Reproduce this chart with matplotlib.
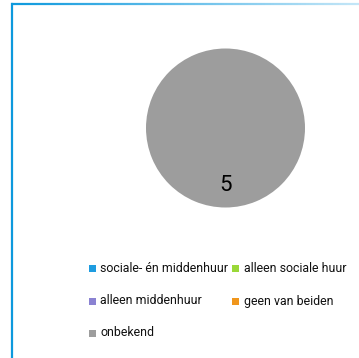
"""Pie chart of housing category counts (single category filled)."""

import matplotlib
matplotlib.use("Agg")
import matplotlib.pyplot as plt
import numpy as np
from matplotlib.collections import LineCollection
from matplotlib.colors import to_rgb
from matplotlib.patches import Rectangle

categories = [
    "sociale- én middenhuur",
    "alleen sociale huur",
    "alleen middenhuur",
    "geen van beiden",
    "onbekend",
]
values = [0, 0, 0, 0, 5]
colours = ["#1e9ce0", "#9ad838", "#8a82d2", "#f0961c", "#9d9d9d"]

W, H = 359, 358
plt.rcParams["font.family"] = ["Roboto", "DejaVu Sans"]

fig = plt.figure(figsize=(W / 100, H / 100), dpi=100)

# frame: blue line on left and top, top line fading to the right
fig.add_artist(plt.Line2D([12 / W, 12 / W], [0, 1 - 4 / H], color="#0d99dd", linewidth=1.6))
xs = np.linspace(11, W, 120) / W
pts = np.array([xs, np.full_like(xs, 1 - 4.3 / H)]).T.reshape(-1, 1, 2)
segs = np.concatenate([pts[:-1], pts[1:]], axis=1)
c0, c1 = np.array(to_rgb("#0d99dd")), np.array(to_rgb("#c4e6f7"))
t = np.linspace(0, 1, len(segs))[:, None]
fig.add_artist(LineCollection(segs, colors=c0 + (c1 - c0) * t, linewidths=1.6,
                              transform=fig.transFigure))

# pie
cx, cy, r = 225.5, 128, 79.5
ax = fig.add_axes([(cx - r) / W, (H - cy - r) / H, 2 * r / W, 2 * r / H])
nz = [(v, c) for v, c in zip(values, colours) if v > 0]
wedges, texts = ax.pie([v for v, _ in nz], colors=[c for _, c in nz], labels=[str(v) for v, _ in nz],
                       labeldistance=0.7, startangle=90, counterclock=False,
                       textprops={"fontsize": 16, "color": "#000000"})
for tx in texts:
    tx.set_position((0, -0.72))
    tx.set_ha("center")
    tx.set_va("center")
ax.set_xlim(-1, 1)
ax.set_ylim(-1, 1)
ax.set_aspect("equal")

# legend, two columns
col_x = [89, 232]
row_y = [268, 301, 333]
for i, (name, col) in enumerate(zip(categories, colours)):
    x = col_x[i % 2]
    y = row_y[i // 2]
    fig.add_artist(Rectangle((x / W, (H - y - 3.5) / H), 7 / W, 7 / H, facecolor=col,
                             edgecolor="none", transform=fig.transFigure))
    fig.text((x + 11.5) / W, (H - y) / H, name, fontsize=8.9, color="#111111",
             ha="left", va="center")

fig.savefig("out.png", dpi=100)
